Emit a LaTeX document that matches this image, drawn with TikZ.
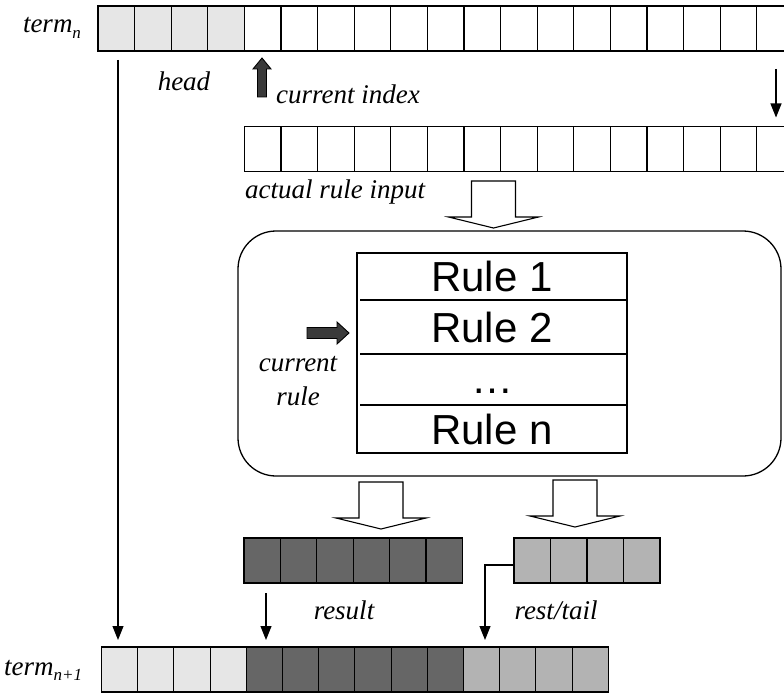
\documentclass[tikz,border=0pt]{standalone}
\usepackage{fontspec}
\setmainfont{Liberation Serif}
\newfontfamily\rulefont{Liberation Sans}
\usetikzlibrary{arrows.meta,calc}

\definecolor{cellA}{HTML}{E6E6E6}
\definecolor{cellB}{HTML}{666666}
\definecolor{cellC}{HTML}{B3B3B3}
\definecolor{boldfill}{HTML}{3A3A3A}

\tikzset{
  cell/.style={draw=black, line width=1.1pt, minimum width=#1, minimum height=45pt,
               inner sep=0pt, outer sep=0pt, anchor=north west},
  cell/.default=36.6pt,
  lbl/.style={font=\fontsize{27}{34}\selectfont\itshape, inner sep=0pt},
  rulelbl/.style={font=\rulefont\fontsize{42}{46}\selectfont, inner sep=0pt, anchor=base},
  thinarrow/.style={line width=1.1pt, -{Triangle[length=14pt,width=11pt]}},
  hollowline/.style={draw=black, line width=1.1pt, fill=white, line join=miter},
  boldarrow/.style={draw=black, line width=0.9pt, fill=boldfill, line join=miter},
  hollowarrow/.pic={\draw[hollowline] (-22,0) -- (22,0) -- (22,36) -- (45,36) -- (0,47)
                     -- (-45,36) -- (-22,36) -- cycle;},
}

\begin{document}
\begin{tikzpicture}[x=1pt, y=-1pt]
\useasboundingbox (0,0) rectangle (784,695);
\clip (0,0) rectangle (784,695);

% ---------- term_n row ----------
\foreach \i in {0,...,3}
  \node[cell, fill=cellA] (t\i) at ({98+36.6*\i},6) {};
\foreach \i in {4,...,18}
  \node[cell, fill=white] (t\i) at ({98+36.6*\i},6) {};
\node[lbl] (termn) at (52,28) {term\raisebox{-0.22em}{\fontsize{17}{17}\selectfont n}};

\node[lbl] (head) at (184,81) {head};
\node[lbl, anchor=base west] (curidx) at (276,104) {current index};
\draw[boldarrow] (262,58) -- (271,69) -- (266.5,69) -- (266.5,97) -- (257.5,97)
                 -- (257.5,69) -- (253,69) -- cycle;

% ---------- actual rule input row ----------
\foreach \i in {0,...,14}
  \node[cell, fill=white] (m\i) at ({244.4+36.6*\i},126.5) {};
\node[lbl, anchor=base west] (input) at (245,199) {actual rule input};

\coordinate (copysrc) at (776,69);
\draw[thinarrow, shorten >=9pt] (copysrc) -- (copysrc |- m14.north);

\pic at (493.5,181) {hollowarrow};

% ---------- rule engine ----------
\node[draw=black, line width=1.3pt, rounded corners=38pt, minimum width=543pt,
      minimum height=245pt, inner sep=0pt] (engine) at (509.5,353.5) {};

\node[draw=black, line width=1.1pt, minimum width=270pt, minimum height=200pt,
      inner sep=0pt] (rules) at (492,353) {};
\draw[line width=1.1pt] (360,300) -- (627,300);
\draw[line width=1.1pt] (360,354) -- (627,354);
\draw[line width=1.1pt] (360,405) -- (627,405);
\node[rulelbl] (rule1) at (492,291.5) {Rule 1};
\node[rulelbl] (rule2) at (492,342.5) {Rule 2};
\node[rulelbl] (rule3) at (492,393) {…};
\node[rulelbl] (rulen) at (492,444) {Rule n};

\draw[boldarrow] (349,333) -- (337,344) -- (337,338.5) -- (307,338.5) -- (307,327.5)
                 -- (337,327.5) -- (337,322) -- cycle;
\node[lbl, align=center] (currule) at (298,381) {current\\rule};

% ---------- result and rest ----------
\pic at (381,482) {hollowarrow};
\pic at (575,480) {hollowarrow};

\foreach \i in {0,...,5}
  \node[cell=36.4pt, fill=cellB] (r\i) at ({244+36.4*\i},538) {};
\foreach \i in {0,...,3}
  \node[cell=36.5pt, fill=cellC] (s\i) at ({514+36.5*\i},538) {};

\node[lbl] (result) at (344,610) {result};
\node[lbl] (rest) at (556,610) {rest/tail};

% ---------- term_{n+1} row ----------
\foreach \i in {0,...,3}
  \node[cell=36.2pt, fill=cellA] (b\i) at ({101.5+36.2*\i},647) {};
\foreach \i in {4,...,9}
  \node[cell=36.2pt, fill=cellB] (b\i) at ({101.5+36.2*\i},647) {};
\foreach \i in {10,...,13}
  \node[cell=36.2pt, fill=cellC] (b\i) at ({101.5+36.2*\i},647) {};
\node[lbl, anchor=base west] (termn1) at (4,675) {term\raisebox{-0.22em}{\fontsize{17}{17}\selectfont n+1}};

% ---------- connectors ----------
\coordinate (headsrc) at (118,60);
\draw[thinarrow, shorten >=7pt] (headsrc) -- (headsrc |- b0.north);

\coordinate (ressrc) at (266,593);
\draw[thinarrow, shorten >=7pt] (ressrc) -- (ressrc |- b4.north);

\coordinate (restout) at (514,565);
\coordinate (restbend) at (485,565);
\draw[thinarrow, shorten >=7pt] (restout) -- (restbend) -- (restbend |- b10.north);
\end{tikzpicture}
\end{document}
